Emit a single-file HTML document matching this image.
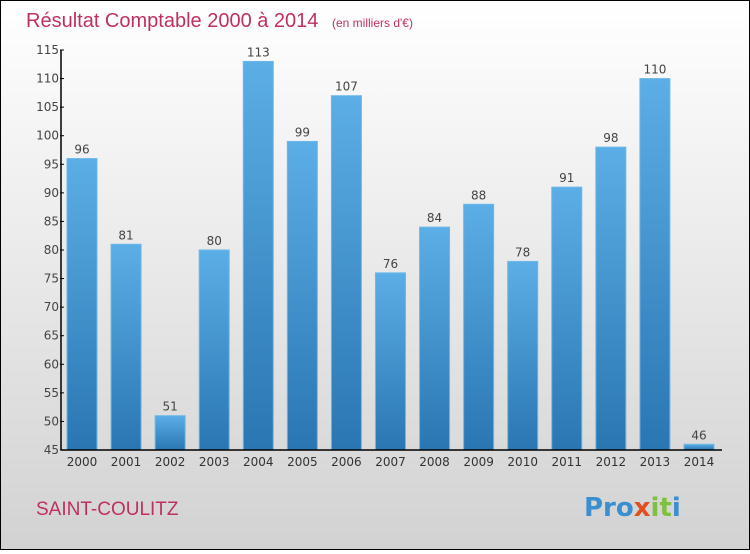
<!DOCTYPE html>
<html><head><meta charset="utf-8"><style>
html,body{margin:0;padding:0}
body{width:750px;height:550px;overflow:hidden;font-family:"DejaVu Sans","Liberation Sans",sans-serif}
</style></head><body>
<svg width="750" height="550" xmlns="http://www.w3.org/2000/svg">
<defs>
<linearGradient id="bg" x1="0" y1="0" x2="0" y2="1"><stop offset="0" stop-color="#ffffff"/><stop offset="1" stop-color="#d2d2d2"/></linearGradient>
<linearGradient id="bar" x1="0" y1="0" x2="0" y2="1"><stop offset="0" stop-color="#5caee6"/><stop offset="1" stop-color="#2a76b2"/></linearGradient>
</defs>
<rect x="0.5" y="0.5" width="749" height="549" fill="url(#bg)" stroke="#000"/>
<text x="26" y="27" font-size="20" fill="#c0305e" font-family="Liberation Sans, sans-serif">Résultat Comptable 2000 à 2014 <tspan font-size="12" dx="8">(en milliers d'€)</tspan></text>
<g id="bars"></g>
<g id="axes"></g>
<text x="36" y="515" font-size="19" fill="#c0305e" font-family="Liberation Sans, sans-serif">SAINT-COULITZ</text>
<text x="584" y="516" font-size="26" font-weight="bold" fill="#f0a030"><tspan fill="#3a8fd0">Pro</tspan><tspan fill="#e05020">x</tspan><tspan fill="#80c040">it</tspan><tspan fill="#3a8fd0">i</tspan></text>
</svg>
<script>
const years=["2000","2001","2002","2003","2004","2005","2006","2007","2008","2009","2010","2011","2012","2013","2014"];
const values=[96,81,51,80,113,99,107,76,84,88,78,91,98,110,46];
const yTicks=[45,50,55,60,65,70,75,80,85,90,95,100,105,110,115];
const NS="http://www.w3.org/2000/svg";
const yMin=45,yMax=115,yTop=50,yBot=450,x0=82,step=44.07,bw=30,axX=61;
const y=v=>yBot-(v-yMin)/(yMax-yMin)*(yBot-yTop);
const x=i=>x0+i*step;
function mk(t,a,p){const e=document.createElementNS(NS,t);for(const k in a)e.setAttribute(k,a[k]);p.appendChild(e);return e;}
const gb=document.getElementById('bars'),ga=document.getElementById('axes');
values.forEach((v,i)=>{
 const r=mk('rect',{x:x(i)-bw/2,y:y(v),width:bw,height:yBot-y(v),fill:'url(#bar)',stroke:'#6bb8ea','stroke-width':1},gb);
 
 
 const t=mk('text',{x:x(i),y:y(v)-5,'text-anchor':'middle','font-size':12,fill:'#444'},gb);
 t.textContent=v;
 
 
 const xl=mk('text',{x:x(i),y:yBot+16,'text-anchor':'middle','font-size':12,fill:'#333'},ga);
 xl.textContent=years[i];
 
 
});
const yl=mk('line',{x1:axX,y1:yTop,x2:axX,y2:yBot,stroke:'#000','stroke-width':1.5},ga);


const xa=mk('line',{x1:axX,y1:yBot,x2:722,y2:yBot,stroke:'#000','stroke-width':1.5},ga);


yTicks.forEach(v=>{
 const tk=mk('line',{x1:axX-1,y1:y(v),x2:axX+3,y2:y(v),stroke:'#000'},ga);
 
 
 const t=mk('text',{x:axX-2,y:y(v)+4,'text-anchor':'end','font-size':12,fill:'#444'},ga);
 t.textContent=v;
 
 
});
</script>
</body></html>
